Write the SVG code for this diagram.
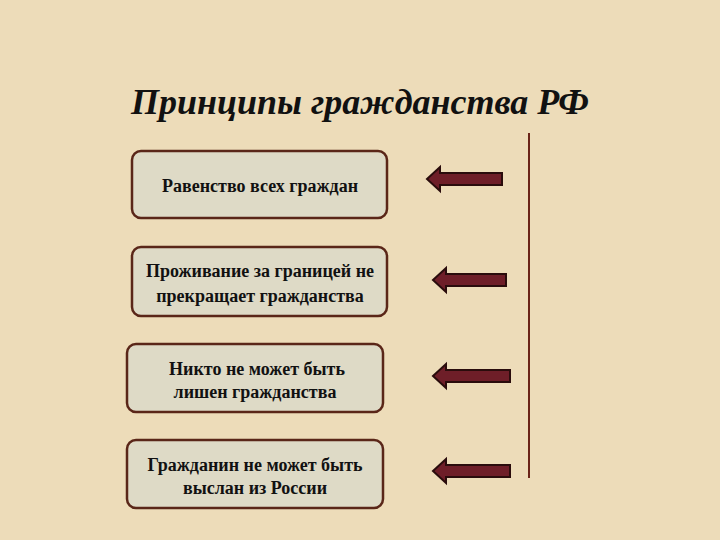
<svg xmlns="http://www.w3.org/2000/svg" width="720" height="540" viewBox="0 0 720 540">
<defs>
<style>
.box{fill:#dedac6;stroke:#5a2618;stroke-width:2.5}
.t{font-family:"Liberation Serif","Times New Roman",serif;font-weight:bold;font-size:18px;fill:#111;text-anchor:middle}
.arr{fill:#6e1e28;stroke:#2a0c0c;stroke-width:2;stroke-linejoin:miter}
</style>
</defs>
<rect width="720" height="540" fill="#eddcb9"/>
<text x="360" y="114" font-family="Liberation Serif,serif" font-weight="bold" font-style="italic" font-size="36" fill="#111" text-anchor="middle">Принципы гражданства РФ</text>
<g id="n1"><rect class="box" x="132" y="151" width="255" height="67" rx="9"/><text class="t" x="260" y="192">Равенство всех граждан</text></g>
<g id="n2"><rect class="box" x="132" y="247" width="255" height="69" rx="9"/><text class="t" x="260" y="277">Проживание за границей не</text><text class="t" x="260" y="302">прекращает гражданства</text></g>
<g id="n3"><rect class="box" x="127" y="344" width="256" height="68" rx="9"/><text class="t" x="257" y="375">Никто не может быть</text><text class="t" x="255" y="398">лишен гражданства</text></g>
<g id="n4"><rect class="box" x="127" y="440" width="256" height="68" rx="9"/><text class="t" x="255" y="471">Гражданин не может быть</text><text class="t" x="255" y="494">выслан из России</text></g>
<g id="connectors">
<line x1="529" y1="133" x2="529" y2="478" stroke="#6a2418" stroke-width="2"/>
<polygon class="arr" points="427,179 440,167 440,173 502,173 502,185 440,185 440,191"/>
<polygon class="arr" points="433,280 446,268 446,274 506,274 506,286 446,286 446,292"/>
<polygon class="arr" points="433,376 446,364 446,370 510,370 510,382 446,382 446,388"/>
<polygon class="arr" points="433,471 446,459 446,465 510,465 510,477 446,477 446,483"/>
</g>
</svg>
